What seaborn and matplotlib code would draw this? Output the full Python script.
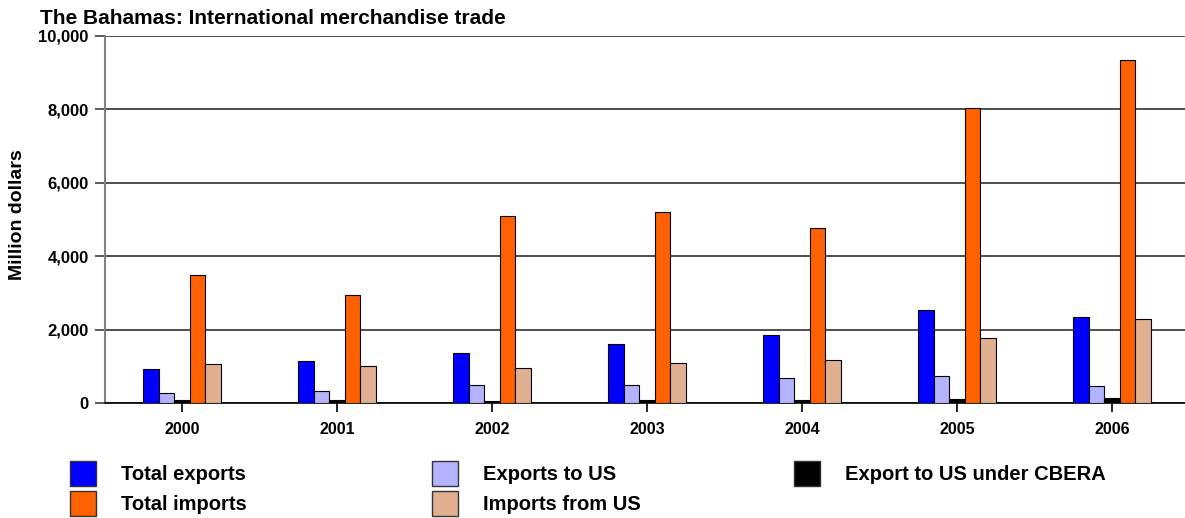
import pandas as pd
import seaborn as sns
import matplotlib.pyplot as plt
from matplotlib.patches import Patch
from matplotlib.ticker import FuncFormatter

# values (million dollars)
years = ['2000', '2001', '2002', '2003', '2004', '2005', '2006']
total_exports = [940, 1160, 1370, 1600, 1850, 2540, 2350]
exports_us = [290, 330, 490, 500, 680, 730, 480]
cbera = [80, 80, 70, 100, 100, 125, 140]
total_imports = [3480, 2950, 5090, 5200, 4760, 8020, 9330]
imports_us = [1060, 1015, 970, 1085, 1185, 1765, 2290]

series = ['Total exports', 'Exports to US', 'Export to US under CBERA',
          'Total imports', 'Imports from US']
colors = ['#0000FF', '#B3B3FF', '#000000', '#FF6000', '#E0B090']

df = pd.DataFrame({
    'year': years * 5,
    'value': total_exports + exports_us + cbera + total_imports + imports_us,
    'series': [s for s in series for _ in years],
})

sns.set_theme(style='white')
plt.rcParams['font.family'] = ['Liberation Sans', 'DejaVu Sans']
plt.rcParams['font.weight'] = 'bold'
plt.rcParams['text.color'] = 'black'
plt.rcParams['xtick.color'] = 'black'
plt.rcParams['ytick.color'] = 'black'
plt.rcParams['axes.labelcolor'] = 'black'

W, H = 1185, 518
fig = plt.figure(figsize=(W / 100, H / 100), dpi=100)
ax = fig.add_axes([104.5 / W, 1 - 403.3 / H, 1085 / W, (403.3 - 35.7) / H])

sns.barplot(data=df, x='year', y='value', hue='series', hue_order=series,
            palette=colors, width=0.5, edgecolor='black', linewidth=0.8,
            saturation=1, legend=False, ax=ax, zorder=3)

ax.set_ylim(0, 10000)
ax.set_yticks(range(0, 10001, 2000))
ax.yaxis.set_major_formatter(FuncFormatter(lambda v, p: f'{int(v):,}'))
ax.set_xlabel('')
ax.set_ylabel('')
ax.yaxis.grid(True, color='#303030', linewidth=1.2, zorder=0)
ax.set_axisbelow(True)

for s in ['top', 'right']:
    ax.spines[s].set_visible(False)
ax.spines['left'].set_color('#808080')
ax.spines['left'].set_linewidth(1.5)
ax.spines['bottom'].set_color('black')
ax.spines['bottom'].set_linewidth(1.2)

ax.tick_params(axis='x', bottom=True, length=6.2, width=1.2, color='black',
               direction='out', pad=7, labelsize=11.5, labelcolor='black')
ax.tick_params(axis='y', left=True, length=7.2, width=1.2, color='#404040',
               direction='out', pad=4.3, labelsize=12, labelcolor='black')
for lab in ax.get_xticklabels() + ax.get_yticklabels():
    lab.set_fontweight('bold')

fig.text(40 / W, 1 - 23.5 / H, 'The Bahamas: International merchandise trade',
         fontsize=15, fontweight='bold', va='baseline', ha='left', color='black')
fig.text(18 / W, 1 - 215 / H, 'Million dollars', rotation=90, color='black',
         fontsize=14, fontweight='bold', va='center', ha='center')

# legend laid out as three fixed columns
columns = [
    (70, [('Total exports', '#0000FF'), ('Total imports', '#FF6000')]),
    (432, [('Exports to US', '#B3B3FF'), ('Imports from US', '#E0B090')]),
    (794, [('Export to US under CBERA', '#000000')]),
]
for x0, items in columns:
    handles = [Patch(facecolor=c, edgecolor='#333333', linewidth=1) for _, c in items]
    labels = [t for t, _ in items]
    fig.legend(handles, labels, loc='upper left',
               bbox_to_anchor=(x0 / W, 1 - 461 / H), frameon=False,
               prop={'size': 14.5, 'weight': 'bold'}, labelcolor='black',
               handlelength=1.29, handleheight=1.53, handletextpad=1.23,
               labelspacing=0.25, borderpad=0, borderaxespad=0)

fig.savefig('out.png', dpi=100)
